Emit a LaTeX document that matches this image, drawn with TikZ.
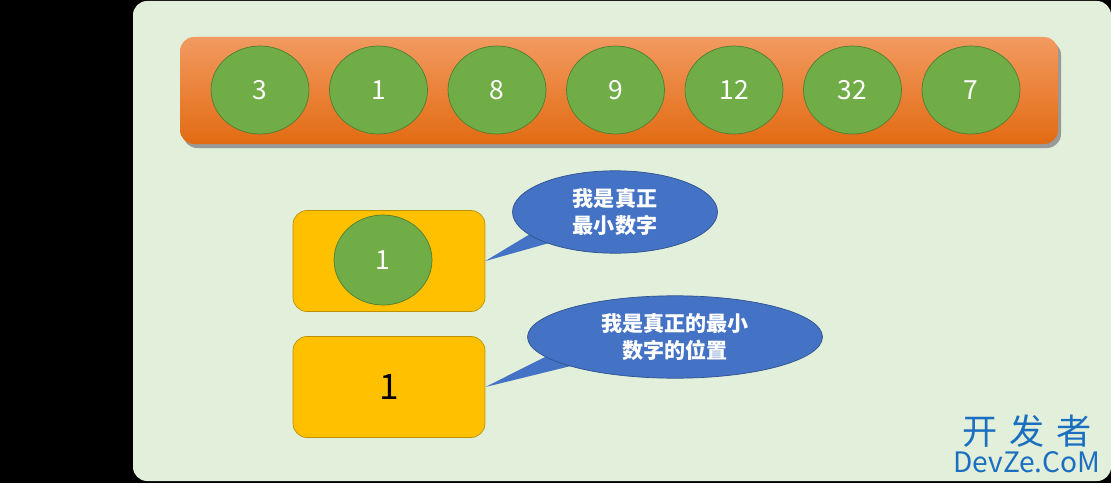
\documentclass[tikz,border=0pt]{standalone}
\usepackage{fontspec}
\setmainfont{Noto Sans CJK SC}
\usetikzlibrary{shapes.geometric,positioning}
\definecolor{panel}{HTML}{E2EFDA}
\definecolor{ballgreen}{HTML}{70AD47}
\definecolor{balledge}{HTML}{507E32}
\definecolor{boxyellow}{HTML}{FFC000}
\definecolor{boxedge}{HTML}{BF9000}
\definecolor{bubble}{HTML}{4472C4}
\definecolor{bubbleedge}{HTML}{2F528F}
\definecolor{barTop}{HTML}{F29A60}
\definecolor{barBottom}{HTML}{E26B12}
\definecolor{mark}{HTML}{1A6FC0}
\tikzset{
    ball/.style={ellipse,draw=balledge,fill=ballgreen,minimum width=1.96cm,minimum height=1.76cm,
                 text=white,font=\fontsize{15}{15}\selectfont},
    slot/.style={rectangle,rounded corners=8pt,draw=boxedge,fill=boxyellow,minimum width=3.84cm,minimum height=2.02cm},
    talk/.style={ellipse,draw=bubbleedge,fill=bubble,text=white,align=center,font=\bfseries\fontsize{12}{15}\selectfont}
}
\begin{document}
\begin{tikzpicture}[x=0.02cm,y=-0.02cm]
    \useasboundingbox (0,0) rectangle (1111,483);
    \fill[black] (0,0) rectangle (1111,483);
    \fill[panel,rounded corners=8pt] (133,1) rectangle (1111,481);

    % array of numbers
    \fill[black!40,rounded corners=8pt] (183,41) rectangle (1061,148);
    \shade[top color=barTop,bottom color=barBottom,rounded corners=8pt] (180,37) rectangle (1058,144);
    \foreach \v [count=\i from 0] in {3,1,8,9,12,32,7}
    {
        \node[ball] (n\i) at (260+118.5*\i,90) {\v};
    }

    % smallest value and its position
    \node[slot] (minbox) at (389,261) {};
    \node[ball,minimum height=1.8cm] (minval) at (383,260) {1};
    \node[slot,font=\fontsize{20}{20}\selectfont] (posbox) at (389,387) {1};

    % callouts
    \fill[bubble] (minbox.east) -- (545,225) -- (560,240) -- cycle;
    \node[talk,minimum width=4.1cm,minimum height=1.56cm] (say1) at (615,212) {我是真正\\最小数字};
    \fill[bubble] (posbox.east) -- (555,352) -- (575,365) -- cycle;
    \node[talk,minimum width=5.9cm,minimum height=1.6cm] (say2) at (675,337) {我是真正的最小\\数字的位置};

    % watermark
    \node[text=mark,inner sep=0pt,font=\fontsize{20}{20}\selectfont] (wm1) at (1027,431) {开\,\,发\,\,者};
    \node[text=mark,inner sep=0pt,font=\fontsize{16}{16}\selectfont] (wm2) at (1027,462) {DevZe.CoM};
\end{tikzpicture}
\end{document}
